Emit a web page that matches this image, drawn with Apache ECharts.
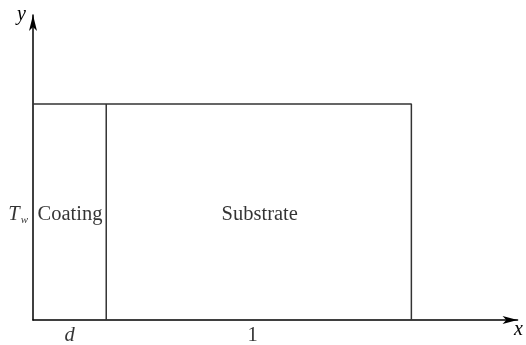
<!DOCTYPE html>
<html>
<head>
<meta charset="utf-8">
<script src="https://cdn.jsdelivr.net/npm/echarts@6/dist/echarts.min.js"></script>
<style>
  html, body { margin: 0; padding: 0; background: #fff; }
  #chart { width: 526px; height: 345px; }
</style>
</head>
<body>
<div id="chart"></div>
<script>
// Geometry of the two-layer domain (substrate width = 1)
const coatingWidth = 0.24;        // d
const substrateEnd = 1.24;        // d + 1
const layerHeight = 1;
const xAxisMax = 1.588;
const yAxisMax = 1.412;

// Outer boundary (top and right edges) and coating/substrate interface
const outlineX = [0, substrateEnd, substrateEnd];
const outlineY = [layerHeight, layerHeight, 0];
const interfaceX = [coatingWidth, coatingWidth];
const interfaceY = [0, layerHeight];

// Region names
const regionLabels = ['Coating', 'Substrate'];
const regionLabelX = [0.121, 0.743];
const regionLabelY = [0.487, 0.487];

// Width annotations under the x axis (d is a symbol, 1 a number)
const widthLabels = ['{i|d}', '{n|1}'];
const widthLabelX = [0.12, 0.72];

// Wall temperature marker on the left boundary
const wallLabelY = 0.487;

const serif = 'Liberation Serif';

const chart = echarts.init(document.getElementById('chart'));

const zip = (xs, ys) => xs.map((x, i) => [x, ys[i]]);

chart.setOption({
  animation: false,
  backgroundColor: '#fff',
  grid: { left: 33, right: 8, top: 15, bottom: 25, containLabel: false },
  xAxis: {
    type: 'value', min: 0, max: xAxisMax,
    name: 'x', nameLocation: 'end', nameGap: 0,
    nameTextStyle: { fontFamily: serif, fontStyle: 'italic', fontSize: 20, color: '#000',
      align: 'center', verticalAlign: 'top', padding: [0, 0, 0, 2] },
    axisLine: { show: true, onZero: false, symbol: ['none', 'arrow'], symbolSize: [6, 15],
      lineStyle: { color: '#000', width: 1.5 } },
    axisTick: { show: false }, axisLabel: { show: false }, splitLine: { show: false }
  },
  yAxis: {
    type: 'value', min: 0, max: yAxisMax,
    name: 'y', nameLocation: 'end', nameGap: 0,
    nameTextStyle: { fontFamily: serif, fontStyle: 'italic', fontSize: 20, color: '#000',
      align: 'right', verticalAlign: 'middle', padding: [2, 7, 0, 0] },
    axisLine: { show: true, onZero: false, symbol: ['none', 'arrow'], symbolSize: [6, 16],
      lineStyle: { color: '#000', width: 1.5 } },
    axisTick: { show: false }, axisLabel: { show: false }, splitLine: { show: false }
  },
  series: [
    {
      type: 'line', data: zip(outlineX, outlineY), symbol: 'none', silent: true,
      lineStyle: { color: '#333', width: 1.5 }
    },
    {
      type: 'line', data: zip(interfaceX, interfaceY), symbol: 'none', silent: true,
      lineStyle: { color: '#333', width: 1.5 }
    },
    {
      type: 'scatter', symbolSize: 0, silent: true,
      data: regionLabels.map((t, i) => ({ value: [regionLabelX[i], regionLabelY[i]], name: t })),
      label: { show: true, position: 'inside', formatter: p => p.name,
        fontFamily: serif, fontSize: 20.5, color: '#000' }
    },
    {
      type: 'scatter', symbolSize: 0, silent: true, clip: false,
      data: widthLabels.map((t, i) => ({ value: [widthLabelX[i], 0], name: t })),
      label: { show: true, position: 'inside', offset: [0, 16], formatter: p => p.name,
        rich: {
          i: { fontFamily: serif, fontStyle: 'italic', fontSize: 20.5, color: '#000' },
          n: { fontFamily: serif, fontSize: 20.5, color: '#000' }
        } }
    },
    {
      type: 'scatter', symbolSize: 0, silent: true, clip: false,
      data: [{ value: [0, wallLabelY], name: 'T_w' }],
      label: { show: true, position: 'left', distance: 5,
        formatter: '{t|T}{w|w}',
        rich: {
          t: { fontFamily: serif, fontStyle: 'italic', fontSize: 20.5, color: '#000' },
          w: { fontFamily: serif, fontStyle: 'italic', fontSize: 11, color: '#000',
            padding: [10, 0, 0, 1] }
        } }
    }
  ]
});
</script>
</body>
</html>
